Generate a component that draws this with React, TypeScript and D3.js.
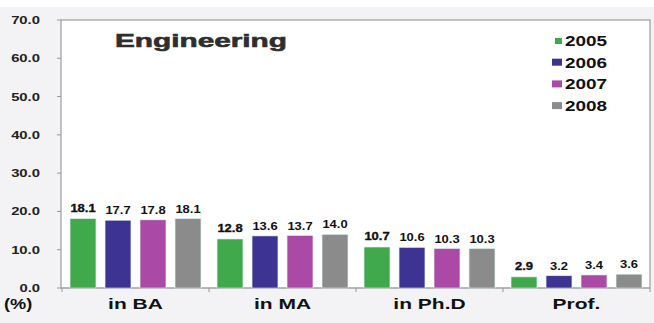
import React from "react";
import * as d3 from "d3";

const categories = ["in BA", "in MA", "in Ph.D", "Prof."];
const seriesNames = ["2005", "2006", "2007", "2008"];
const values2005 = [18.1, 12.8, 10.7, 2.9];
const values2006 = [17.7, 13.6, 10.6, 3.2];
const values2007 = [17.8, 13.7, 10.3, 3.4];
const values2008 = [18.1, 14.0, 10.3, 3.6];
const yTicks = [0, 10, 20, 30, 40, 50, 60, 70];
const colors = ["#3fa94b", "#3c3392", "#ab4aa6", "#8b8b8b"];

const seriesValues = [values2005, values2006, values2007, values2008];

const W = 654;
const H = 323;
const plot = { left: 61, right: 650, top: 20, bottom: 288 };
const FONT = "'Liberation Sans', Arial, sans-serif";

function SText(props: {
  x: number;
  y: number;
  sx: number;
  size: number;
  anchor?: string;
  children: React.ReactNode;
  fill?: string;
  stroke?: string;
}) {
  const { x, y, sx, size, anchor = "start", children, fill = "#111", stroke } = props;
  return (
    <text
      transform={`translate(${x},${y}) scale(${sx},1)`}
      textAnchor={anchor}
      fontFamily={FONT}
      fontWeight="bold"
      fontSize={size}
      fill={fill}
      stroke={stroke}
      strokeWidth={stroke ? 0.35 : 0}
    >
      {children}
    </text>
  );
}

export default function App() {
  const y = d3.scaleLinear().domain([0, 70]).range([plot.bottom, plot.top]);
  const x0 = d3
    .scaleBand<string>()
    .domain(categories)
    .range([plot.left + 1, plot.right])
    .paddingInner(0)
    .paddingOuter(0);
  const x1 = d3
    .scaleBand<string>()
    .domain(seriesNames)
    .range([0, x0.bandwidth()])
    .paddingInner(0.26)
    .paddingOuter(0.23);

  const boundaries = categories.map((c) => x0(c)!).concat([x0.range()[1]]);

  return (
    <svg
      width={W}
      height={H}
      style={{ position: "absolute", left: 0, top: 0 }}
      xmlns="http://www.w3.org/2000/svg"
    >
      <rect x={0} y={0} width={W} height={H} fill="#ffffff" />
      <rect x={0} y={7} width={W} height={H - 7} fill="#f3f3f5" />
      <rect
        x={plot.left}
        y={plot.top}
        width={plot.right - plot.left}
        height={plot.bottom - plot.top}
        fill="#ffffff"
        stroke="#8a8a8a"
        strokeWidth={1}
      />

      {/* y ticks */}
      {yTicks.map((t) => (
        <g key={t}>
          <line x1={plot.left - 4} x2={plot.left} y1={y(t)} y2={y(t)} stroke="#999" />
          <SText x={40} y={y(t) + 4} sx={1.35} size={11} anchor="end" fill="#222">
            {d3.format(".1f")(t)}
          </SText>
        </g>
      ))}

      {/* x axis */}
      <line x1={plot.left} x2={plot.right} y1={plot.bottom} y2={plot.bottom} stroke="#aaa" />
      {boundaries.map((b, i) => (
        <line key={i} x1={b} x2={b} y1={plot.bottom} y2={plot.bottom + 4} stroke="#999" />
      ))}

      {/* bars */}
      {categories.map((c, ci) => (
        <g key={c} transform={`translate(${x0(c)},0)`}>
          {seriesNames.map((s, si) => {
            const v = seriesValues[si][ci];
            const bx = x1(s)!;
            const bw = x1.bandwidth();
            return (
              <g key={s}>
                <rect
                  x={bx}
                  y={y(v)}
                  width={bw}
                  height={plot.bottom - y(v)}
                  fill={colors[si]}
                  stroke="#d9eef0"
                  strokeWidth={0.6}
                />
                <SText
                  x={bx + bw / 2}
                  y={y(v) - (si === 0 ? 7 : 6)}
                  sx={1.18}
                  size={11}
                  anchor="middle"
                  fill="#111"
                  stroke={si === 0 ? "#111" : undefined}
                >
                  {v.toFixed(1)}
                </SText>
              </g>
            );
          })}
        </g>
      ))}

      {/* category labels */}
      {categories.map((c) => (
        <SText key={c} x={x0(c)! + x0.bandwidth() / 2} y={309} sx={1.4} size={15} anchor="middle">
          {c}
        </SText>
      ))}
      <SText x={4} y={309} sx={1.3} size={14} anchor="start">
        (%)
      </SText>

      {/* title */}
      <text
        x={115}
        y={47}
        fontFamily={FONT}
        fontWeight="bold"
        fontSize={19}
        fill="#2e2e2e"
        stroke="#2e2e2e"
        strokeWidth={0.6}
        textLength={172}
        lengthAdjust="spacingAndGlyphs"
      >
        Engineering
      </text>

      {/* legend */}
      {seriesNames.map((s, i) => (
        <g key={s}>
          <rect
            x={i === 0 ? 555 : 552}
            y={(i === 0 ? 38 : 37) + i * 21.7}
            width={i === 0 ? 7 : 10}
            height={i === 0 ? 6 : 7}
            fill={colors[i]}
          />
          <SText x={565} y={46 + i * 21.7} sx={1.35} size={14} anchor="start">
            {s}
          </SText>
        </g>
      ))}
    </svg>
  );
}
